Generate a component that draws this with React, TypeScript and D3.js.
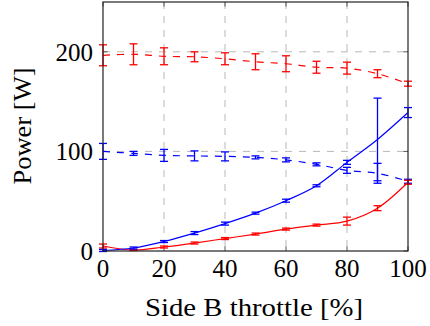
import React from "react";
import * as d3 from "d3";

// Side B throttle settings (%)
const throttle = [0, 10, 20, 30, 40, 50, 60, 70, 80, 90, 100];

// Measured power (W) and its spread, four series
const redDashed = [196.5, 197.5, 195.5, 195, 193, 190, 188, 184.5, 183.6, 178, 168];
const redDashedErr = [10.5, 10.5, 8.5, 5, 6, 8, 8, 6, 6, 4, 2.5];

const blueDashed = [100, 98, 96, 95.5, 95, 94, 91.5, 87, 81, 78, 70];
const blueDashedErr = [8, 2, 6, 5, 4.5, 1.5, 2, 1.5, 3, 10, 2];

const blueSolid = [0.5, 3, 9.5, 18, 27.5, 38, 50.5, 65.5, 89, 112, 139];
const blueSolidErr = [1, 1, 1, 1.5, 1.5, 1, 1.5, 1, 2, 41.5, 5];

const redSolid = [5, 1, 4, 8, 12.5, 17, 22, 26, 30, 43, 69];
const redSolidErr = [2, 0.5, 1, 1, 1, 1, 1, 1, 4, 2.5, 2];

const xTicks = [0, 20, 40, 60, 80, 100];
const yTicks = [0, 100, 200];
const xGrid = [20, 40, 60, 80];
const yGrid = [100, 200];

const W = 430;
const H = 326;
const left = 103;
const right = 408;
const top = 2;
const bottom = 251;

const x = d3.scaleLinear().domain([0, 100]).range([left, right]);
const y = d3.scaleLinear().domain([0, 250]).range([bottom, top]);

const serif = "Liberation Serif";
const textStyle = { fontFamily: serif, fontSize: "25px" };

type Series = { vals: number[]; errs: number[]; color: string; dashed: boolean };

const series: Series[] = [
  { vals: redDashed, errs: redDashedErr, color: "#ff0000", dashed: true },
  { vals: blueDashed, errs: blueDashedErr, color: "#0000ff", dashed: true },
  { vals: redSolid, errs: redSolidErr, color: "#ff0000", dashed: false },
  { vals: blueSolid, errs: blueSolidErr, color: "#0000ff", dashed: false },
];

const line = d3
  .line<[number, number]>()
  .x((d) => x(d[0]))
  .y((d) => y(d[1]))
  .curve(d3.curveCatmullRom.alpha(0.5));

export default function App() {
  const capHalf = 4;
  const tickLen = 4.5;
  return (
    <svg width={W} height={H} style={{ position: "fixed", left: 0, top: 0 }}>
      <style>{`text { font-family: "Liberation Serif", Tinos, FreeSerif, serif !important; }`}</style>
      <rect x={0} y={0} width={W} height={H} fill="#fff" />
      {/* grid */}
      <g stroke="#b8b8b8" strokeWidth={1} strokeDasharray="7,7">
        {xGrid.map((v) => (
          <line key={"gx" + v} x1={x(v)} x2={x(v)} y1={top} y2={bottom} />
        ))}
        {yGrid.map((v) => (
          <line key={"gy" + v} x1={left} x2={right} y1={y(v)} y2={y(v)} />
        ))}
      </g>
      {/* ticks */}
      <g stroke="#555" strokeWidth={1}>
        {xTicks.map((v) => (
          <g key={"tx" + v}>
            <line x1={x(v)} x2={x(v)} y1={bottom} y2={bottom - tickLen} />
            <line x1={x(v)} x2={x(v)} y1={top} y2={top + tickLen} />
          </g>
        ))}
        {yTicks.map((v) => (
          <g key={"ty" + v}>
            <line x1={left} x2={left + tickLen} y1={y(v)} y2={y(v)} />
            <line x1={right} x2={right - tickLen} y1={y(v)} y2={y(v)} />
          </g>
        ))}
      </g>
      {/* series */}
      {series.map((s, i) => {
        const pts = throttle.map((t, j) => [t, s.vals[j]] as [number, number]);
        return (
          <g key={"s" + i}>
            <path
              d={line(pts) || ""}
              fill="none"
              stroke={s.color}
              strokeWidth={1.2}
              strokeDasharray={s.dashed ? "7,7" : undefined}
            />
            <g stroke={s.color} strokeWidth={1.3}>
              {throttle.map((t, j) => {
                const cx = x(t);
                const y1 = y(s.vals[j] + s.errs[j]);
                const y2 = y(s.vals[j] - s.errs[j]);
                return (
                  <g key={j}>
                    <line x1={cx} x2={cx} y1={y1} y2={y2} />
                    <line x1={cx - capHalf} x2={cx + capHalf} y1={y1} y2={y1} />
                    <line x1={cx - capHalf} x2={cx + capHalf} y1={y2} y2={y2} />
                  </g>
                );
              })}
            </g>
          </g>
        );
      })}
      {/* frame */}
      <rect
        x={left}
        y={top}
        width={right - left}
        height={bottom - top}
        fill="none"
        stroke="#222"
        strokeWidth={1.2}
      />
      {/* labels */}
      {xTicks.map((v) => (
        <text key={"lx" + v} x={x(v)} y={277} textAnchor="middle" style={textStyle}>
          {v}
        </text>
      ))}
      {yTicks.map((v) => (
        <text key={"ly" + v} x={93} y={y(v) + 9} textAnchor="end" style={textStyle}>
          {v}
        </text>
      ))}
      <text
        x={254}
        y={316}
        textAnchor="middle"
        style={textStyle}
        textLength={218}
        lengthAdjust="spacingAndGlyphs"
      >
        Side B throttle [%]
      </text>
      <text
        transform="translate(31,126) rotate(-90)"
        textAnchor="middle"
        style={textStyle}
        textLength={117}
        lengthAdjust="spacingAndGlyphs"
      >
        Power [W]
      </text>
    </svg>
  );
}
